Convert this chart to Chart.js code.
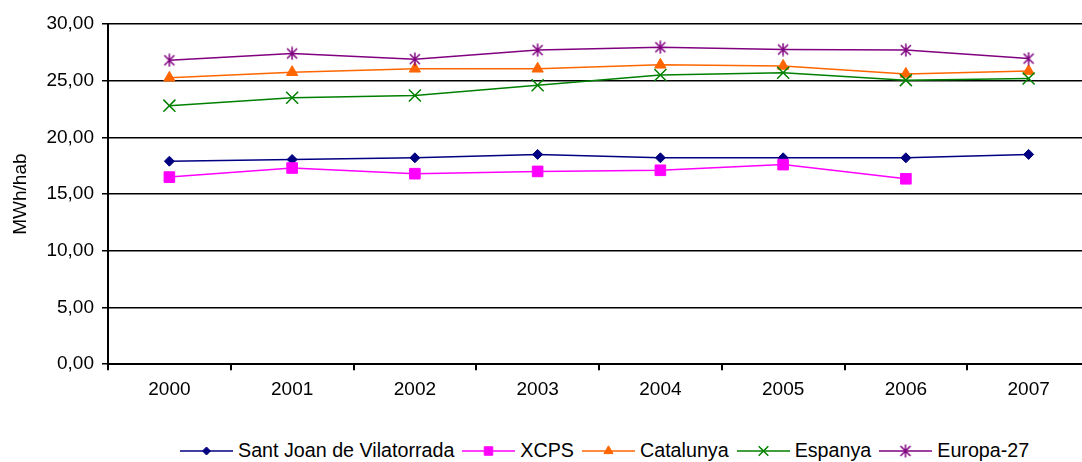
<!DOCTYPE html>
<html>
<head>
<meta charset="utf-8">
<script src="https://cdn.jsdelivr.net/npm/chart.js@4.4.0/dist/chart.umd.min.js"></script>
<style>
    html, body { margin: 0; padding: 0; background: #fff; overflow: hidden; width: 1082px; height: 462px; }
    #wrap { position: absolute; left: 0; top: 0; width: 1100px; height: 409px; }
    #legend { position: absolute; left: 180px; top: 439px; display: flex; align-items: center;
        font-family: "Liberation Sans", Arial, sans-serif; font-size: 19.7px; color: #000; white-space: nowrap; }
    .item { display: flex; align-items: center; margin-right: 8px; }
    .item canvas { display: block; }
    .item span { margin-left: 5px; }
</style>
</head>
<body>
<div id="wrap"><canvas id="chart"></canvas></div>
<div id="legend"></div>
<script>
const years = ['2000', '2001', '2002', '2003', '2004', '2005', '2006', '2007'];
const seriesNames = ['Sant Joan de Vilatorrada', 'XCPS', 'Catalunya', 'Espanya', 'Europa-27'];
const santJoan = [17.9, 18.05, 18.2, 18.5, 18.2, 18.2, 18.2, 18.5];
const xcps = [16.5, 17.3, 16.8, 17.0, 17.1, 17.6, 16.35, null];
const catalunya = [25.25, 25.75, 26.05, 26.05, 26.4, 26.3, 25.6, 25.85];
const espanya = [22.8, 23.5, 23.7, 24.6, 25.5, 25.7, 25.05, 25.2];
const europa = [26.8, 27.4, 26.9, 27.7, 27.95, 27.75, 27.7, 26.95];
const yTicks = [0, 5, 10, 15, 20, 25, 30];

const colors = ['#000080', '#FF00FF', '#FF6600', '#008000', '#800080'];

// excel style star: an x with a vertical bar
function makeStar(color) {
    const c = document.createElement('canvas');
    c.width = 14; c.height = 14;
    const g = c.getContext('2d');
    g.strokeStyle = color;
    g.lineWidth = 1.5;
    g.beginPath();
    g.moveTo(2, 2); g.lineTo(12, 12);
    g.moveTo(12, 2); g.lineTo(2, 12);
    g.moveTo(7, 0.5); g.lineTo(7, 13.5);
    g.stroke();
    return c;
}

const markers = [
    { style: 'rectRot', radius: 5 },
    { style: 'rect', radius: 7.5 },
    { style: 'triangle', radius: 6.5 },
    { style: 'crossRot', radius: 8.5 },
    { style: makeStar(colors[4]), radius: 7 }
];
const values = [santJoan, xcps, catalunya, espanya, europa];

const datasets = values.map((v, i) => ({
    label: seriesNames[i],
    data: v,
    borderColor: colors[i],
    backgroundColor: colors[i],
    borderWidth: 1.5,
    pointStyle: markers[i].style,
    pointRadius: markers[i].radius,
    pointBorderWidth: i >= 3 ? 1.5 : 1,
    pointBackgroundColor: colors[i],
    pointBorderColor: colors[i],
    spanGaps: false,
    order: 4 - i
}));

new Chart(document.getElementById('chart'), {
    type: 'line',
    data: { labels: years, datasets: datasets },
    options: {
        responsive: true,
        maintainAspectRatio: false,
        animation: false,
        layout: { padding: { top: 24, right: 5, left: 0, bottom: 0 } },
        plugins: {
            legend: { display: false },
            tooltip: { enabled: false }
        },
        scales: {
            x: {
                offset: true,
                border: { color: '#000', width: 2 },
                grid: { offset: true, drawOnChartArea: false, color: '#000', lineWidth: 2, tickLength: 6 },
                ticks: { color: '#000', padding: 8, font: { family: '"Liberation Sans", Arial', size: 19 } }
            },
            y: {
                min: 0,
                max: 30,
                afterFit: s => { s.width = 108; },
                afterBuildTicks: s => { s.ticks = yTicks.map(v => ({ value: v })); },
                border: { color: '#000', width: 2 },
                grid: { color: '#000', lineWidth: 1.5, tickLength: 6 },
                ticks: {
                    color: '#000', padding: 8,
                    font: { family: '"Liberation Sans", Arial', size: 19 },
                    callback: v => v.toFixed(2).replace('.', ',')
                },
                title: {
                    display: true, text: 'MWh/hab', color: '#000',
                    padding: { top: 9, bottom: 0 },
                    font: { family: '"Liberation Sans", Arial', size: 19 }
                }
            }
        }
    }
});

// legend: line with marker in the middle, then name
const legend = document.getElementById('legend');
seriesNames.forEach((name, i) => {
    const item = document.createElement('div');
    item.className = 'item';
    const c = document.createElement('canvas');
    c.width = 53; c.height = 22;
    const g = c.getContext('2d');
    g.strokeStyle = colors[i];
    g.lineWidth = 1.5;
    g.beginPath();
    g.moveTo(0, 11); g.lineTo(53, 11);
    g.stroke();
    g.fillStyle = colors[i];
    g.lineWidth = i >= 3 ? 1.5 : 1;
    Chart.helpers.drawPoint(g, { pointStyle: markers[i].style, radius: markers[i].radius * 0.8, rotation: 0, borderWidth: g.lineWidth }, 26.5, 11);
    const t = document.createElement('span');
    t.textContent = name;
    item.appendChild(c);
    item.appendChild(t);
    legend.appendChild(item);
});
</script>
</body>
</html>
